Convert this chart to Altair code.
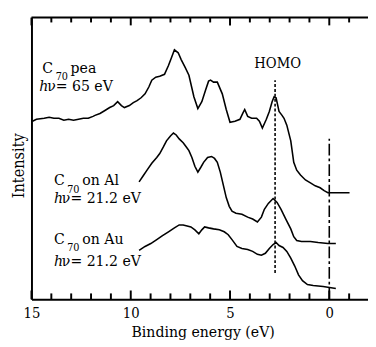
import altair as alt
import pandas as pd

# ---------------- data (binding energy in eV, intensity in arbitrary units) ----------------
pea_energy = [14.95, 14.75, 14.36, 14.11, 13.87, 13.62, 13.37, 13.13, 12.88, 12.63, 12.39, 12.14,
              11.90, 11.80, 11.55, 11.30, 11.06, 10.86, 10.66, 10.47, 10.32, 10.07, 9.87, 9.68,
              9.48, 9.28, 9.09, 8.94, 8.74, 8.54, 8.30, 8.10, 7.95, 7.80, 7.61, 7.46, 7.26, 7.07,
              6.82, 6.62, 6.42, 6.23, 6.08, 5.98, 5.83, 5.64, 5.39, 5.19, 5.00, 4.75, 4.50, 4.36,
              4.26, 4.11, 3.91, 3.66, 3.52, 3.37, 3.17, 3.02, 2.88, 2.78, 2.68, 2.53, 2.38, 2.28,
              2.14, 1.94, 1.79, 1.64, 1.45, 1.20, 0.95, 0.71, 0.46, 0.26, 0.07, -0.18, -0.43,
              -0.67, -1.02]
pea_intensity = [182, 184, 185, 186, 185, 185, 183, 184, 183, 184, 185, 185,
                 187, 188, 190, 193, 196, 198, 202, 198, 196, 198, 201, 203,
                 206, 210, 217, 224, 227, 228, 230, 239, 247, 255, 252, 245, 237, 229,
                 207, 195, 202, 214, 223, 224, 222, 222, 210, 194, 181, 182, 184, 190,
                 194, 187, 185, 185, 182, 175, 184, 192, 202, 207, 206, 192, 188, 185,
                 178, 162, 140, 132, 127, 122, 119, 116, 114, 111, 109, 109, 109,
                 109, 109]

al_energy = [9.58, 9.38, 9.18, 8.94, 8.69, 8.54, 8.35, 8.20, 8.00, 7.85, 7.71, 7.56, 7.36,
             7.21, 7.07, 6.92, 6.77, 6.62, 6.47, 6.33, 6.13, 5.93, 5.78, 5.64, 5.49, 5.34,
             5.19, 5.04, 4.90, 4.70, 4.40, 4.11, 3.86, 3.62, 3.42, 3.27, 3.07, 2.83, 2.63,
             2.43, 2.19, 1.94, 1.79, 1.64, 1.40, 0.95, 0.56, 0.07, -0.33]
al_intensity = [120, 126, 132, 139, 145, 149, 156, 162, 167, 170, 168, 164, 160,
                156, 152, 145, 136, 130, 135, 140, 145, 146, 144, 140, 130, 117,
                104, 95, 90, 88, 87, 84, 82, 79, 84, 92, 98, 103, 99,
                92, 82, 72, 64, 60, 59, 59, 58, 57, 57]

au_energy = [9.58, 9.28, 8.99, 8.69, 8.40, 8.10, 7.80, 7.56, 7.36, 7.16, 6.97, 6.77, 6.57,
             6.42, 6.28, 6.08, 5.83, 5.54, 5.29, 5.09, 4.90, 4.65, 4.40, 4.11, 3.86, 3.62,
             3.42, 3.22, 3.02, 2.83, 2.68, 2.53, 2.33, 2.14, 1.94, 1.74, 1.55, 1.35, 1.10,
             0.81, 0.31, -0.33]
au_intensity = [50, 54, 57, 61, 65, 69, 73, 76, 76, 75, 74, 71, 67,
                71, 74, 73, 72, 71, 69, 66, 61, 54, 52, 51, 49, 46,
                45, 47, 52, 56, 58, 55, 53, 49, 42, 34, 25, 19, 15,
                14, 13, 11]

homo_energy = [2.73]
homo_span = [27, 224]
fermi_energy = [0.0]
fermi_span = [0, 164]

major_ticks = [15.0, 10.0, 5.0, 0.0]
minor_ticks = [14.0, 13.0, 12.0, 11.0, 9.0, 8.0, 7.0, 6.0, 4.0, 3.0, 2.0, 1.0, -1.0]

# ---------------- tables ----------------
rows = []
for name, es, vs in [("pea", pea_energy, pea_intensity),
                     ("Al", al_energy, al_intensity),
                     ("Au", au_energy, au_intensity)]:
    for i, (e, v) in enumerate(zip(es, vs)):
        rows.append({"series": name, "energy": e, "intensity": v, "order": i})
curves_df = pd.DataFrame(rows)

homo_df = pd.DataFrame({"energy": homo_energy, "intensity": [homo_span[0]], "intensity2": [homo_span[1]]})
fermi_df = pd.DataFrame({"energy": fermi_energy, "intensity": [fermi_span[0]], "intensity2": [fermi_span[1]]})

W, H = 344, 288
Y_TOP = 288.0

# inward axis ticks (lengths in intensity units == pixels)
tick_rows = []
for e in major_ticks:
    tick_rows.append({"energy": e, "intensity": 0.0, "intensity2": 9.0})
    tick_rows.append({"energy": e, "intensity": Y_TOP, "intensity2": Y_TOP - 8})
for e in minor_ticks:
    tick_rows.append({"energy": e, "intensity": 0.0, "intensity2": 6.0})
    tick_rows.append({"energy": e, "intensity": Y_TOP, "intensity2": Y_TOP - 5})
ticks_df = pd.DataFrame(tick_rows)

main_text = pd.DataFrame({
    "label": ["C", "pea", "ν= 65 eV", "C", "on Al", "ν= 21.2 eV", "C", "on Au", "ν= 21.2 eV"],
    "energy": [14.46, 13.03, 14.21, 13.87, 12.44, 13.47, 13.87, 12.44, 13.47],
    "intensity": [231, 231, 213, 117, 117, 98, 57, 57, 34],
})
sub_text = pd.DataFrame({
    "label": ["70", "70", "70"],
    "energy": [13.78, 13.20, 13.20],
    "intensity": [224, 109, 49],
})
italic_text = pd.DataFrame({
    "label": ["h", "h", "h"],
    "energy": [14.61, 13.87, 13.87],
    "intensity": [213, 98, 34],
})
homo_text = pd.DataFrame({"label": ["HOMO"], "energy": [2.60], "intensity": [236]})

FONT = "DejaVu Serif Condensed"

xscale = alt.Scale(domain=[-1.95, 15], reverse=True, nice=False, zero=False)
yscale = alt.Scale(domain=[0, Y_TOP], nice=False, zero=False)

xaxis = alt.Axis(values=major_ticks, format="d", title="Binding energy (eV)", ticks=False, tickSize=0,
                 grid=False, domainWidth=2, domainColor="black", labelFont=FONT, labelFontSize=15,
                 labelColor="black", labelPadding=7, labelFlush=False, titleFont=FONT, titleFontSize=16,
                 titleFontWeight="normal", titleColor="black", titlePadding=3, titleX=175)
yaxis = alt.Axis(title="Intensity", labels=False, ticks=False, tickSize=0, grid=False, domainWidth=2,
                 domainColor="black", titleFont=FONT, titleFontSize=16.5, titleFontWeight="normal",
                 titleColor="black", titlePadding=5, titleY=151)

X = alt.X("energy:Q", scale=xscale, axis=xaxis)
Y = alt.Y("intensity:Q", scale=yscale, axis=yaxis)

curves = alt.Chart(curves_df).mark_line(color="black", strokeWidth=1.6).encode(
    x=X, y=Y, detail="series:N", order="order:Q")

homo_line = alt.Chart(homo_df).mark_rule(color="black", strokeWidth=1.6, strokeDash=[3, 2]).encode(
    x=X, y=Y, y2="intensity2:Q")
fermi_line = alt.Chart(fermi_df).mark_rule(color="black", strokeWidth=1.6, strokeDash=[12, 3, 3, 3]).encode(
    x=X, y=Y, y2="intensity2:Q")

tick_marks = alt.Chart(ticks_df).mark_rule(color="black", strokeWidth=2).encode(
    x=X, y=Y, y2="intensity2:Q")

top_border = alt.Chart(homo_df).mark_rule(color="black", strokeWidth=2).encode(
    x=alt.value(0), x2=alt.value(W), y=alt.value(0))

t_main = alt.Chart(main_text).mark_text(font=FONT, fontSize=16, align="left", baseline="alphabetic",
                                        color="black").encode(x=X, y=Y, text="label:N")
t_sub = alt.Chart(sub_text).mark_text(font=FONT, fontSize=11, align="left", baseline="alphabetic",
                                      color="black").encode(x=X, y=Y, text="label:N")
t_it = alt.Chart(italic_text).mark_text(font=FONT, fontSize=16, fontStyle="italic", align="left",
                                        baseline="alphabetic", color="black").encode(x=X, y=Y, text="label:N")
t_homo = alt.Chart(homo_text).mark_text(font=FONT, fontSize=15, align="center", baseline="alphabetic",
                                        color="black").encode(x=X, y=Y, text="label:N")

chart = alt.layer(
    curves, homo_line, fermi_line, tick_marks, top_border,
    t_main, t_sub, t_it, t_homo
).properties(
    width=W, height=H,
    autosize=alt.AutoSizeParams(type="none"),
    padding={"left": 24, "top": 6, "right": 0, "bottom": 45},
    background="white",
).configure_view(stroke=None)

chart.save("out.html", embed_options={"renderer": "svg", "actions": False})
